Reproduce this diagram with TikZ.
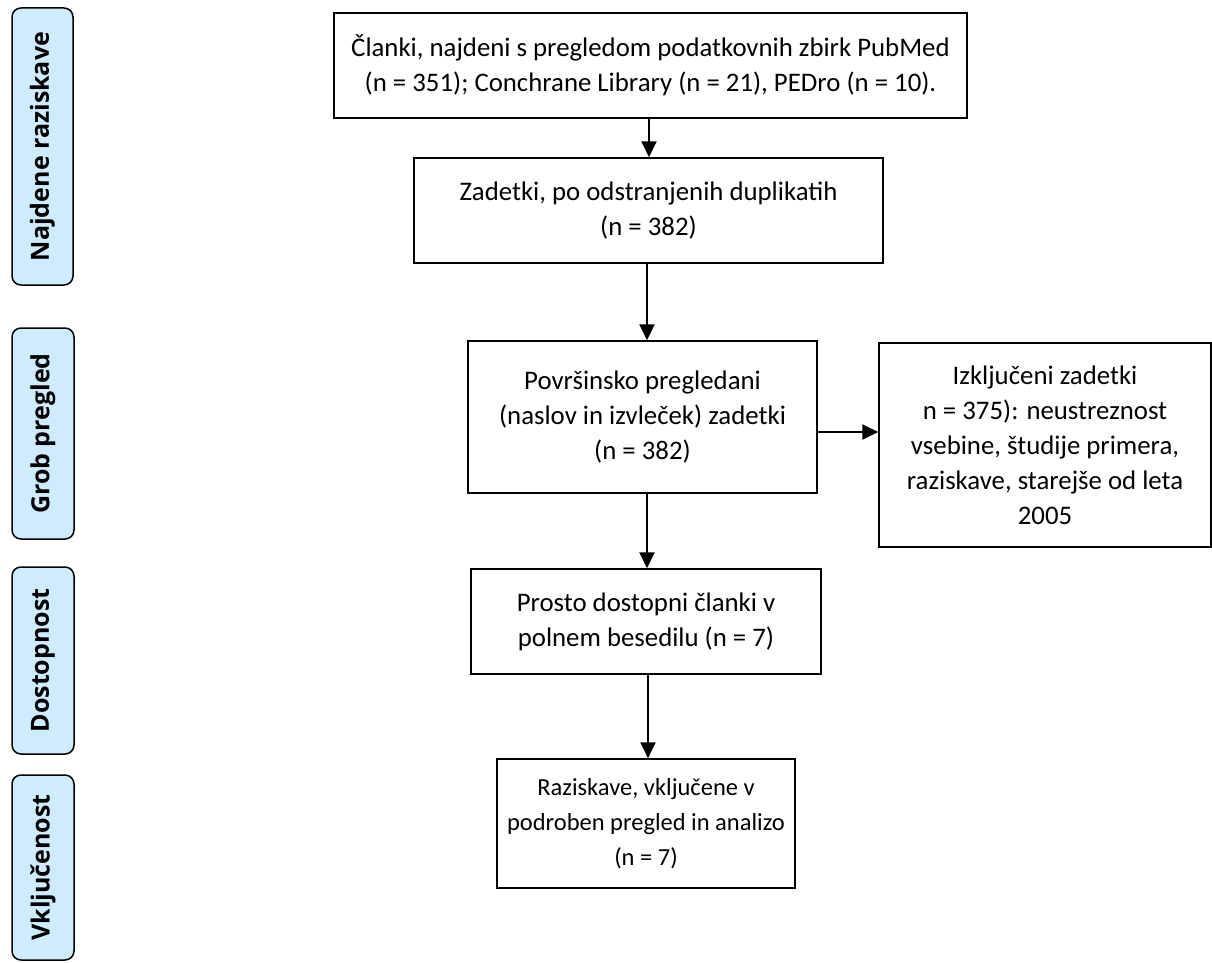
\documentclass[tikz,border=0pt]{standalone}
\usepackage{fontspec}
\setmainfont{Carlito}
\newfontfamily\labelfont{Open Sans}
\usetikzlibrary{arrows.meta,calc}
\definecolor{sidefill}{RGB}{207,236,255}
\tikzset{
  box/.style={draw=black, line width=1.5pt, align=center, inner sep=0pt,
    font=\fontsize{26.8}{35}\selectfont},
  sidebox/.style={draw=black, line width=1.5pt, fill=sidefill, rounded corners=9pt},
  sidetext/.style={rotate=90, font=\labelfont\bfseries\fontsize{25}{30}\selectfont, inner sep=0pt},
  arr/.style={line width=2pt, -{Triangle[length=16pt,width=15pt]}}
}
\begin{document}
\begin{tikzpicture}[x=1pt,y=-1pt]
\useasboundingbox (0,0) rectangle (1212,963);
% side labels
\draw[sidebox] (12,8) rectangle (73,285);
\node[sidetext] (s1) at (42.5,146.5) {Najdene raziskave};
\draw[sidebox] (12,328) rectangle (74,539);
\node[sidetext] (s2) at (43,433.5) {Grob pregled};
\draw[sidebox] (12,567) rectangle (74,754);
\node[sidetext] (s3) at (43,660.5) {Dostopnost};
\draw[sidebox] (12,775) rectangle (74,960);
\node[sidetext] (s4) at (43,867.5) {Vključenost};
% boxes
\node[box, minimum width=633pt, minimum height=105pt] (A) at (650.5,65.5)
  {Članki, najdeni s pregledom podatkovnih zbirk PubMed\\(n = 351); Conchrane Library (n = 21), PEDro (n = 10).};
\node[box, minimum width=469pt, minimum height=105pt] (B) at (648.5,210.5)
  {Zadetki, po odstranjenih duplikatih\\(n = 382)};
\node[box, minimum width=349pt, minimum height=152pt] (C) at (642.5,417)
  {Površinsko pregledani\\(naslov in izvleček) zadetki\\(n = 382)};
\node[box, minimum width=332pt, minimum height=204pt] (D) at (1045,445)
  {Izključeni zadetki\\n = 375): neustreznost\\vsebine, študije primera,\\raziskave, starejše od leta\\2005};
\node[box, minimum width=350pt, minimum height=105pt] (E) at (646,621.5)
  {Prosto dostopni članki v\\polnem besedilu (n = 7)};
\node[box, minimum width=298pt, minimum height=129pt, font=\fontsize{24.5}{35}\selectfont] (F) at (646,823.5)
  {Raziskave, vključene v\\podroben pregled in analizo\\(n = 7)};
% connectors
\coordinate (a1) at (649,0);
\draw[arr] (A.south -| a1) -- (B.north -| a1);
\coordinate (a2) at (647,0);
\draw[arr] (B.south -| a2) -- (C.north -| a2);
\draw[arr] (C.south -| a2) -- (E.north -| a2);
\coordinate (a3) at (648,0);
\draw[arr] (E.south -| a3) -- (F.north -| a3);
\coordinate (a4) at (0,432);
\draw[arr] (C.east |- a4) -- (D.west |- a4);
\end{tikzpicture}
\end{document}
